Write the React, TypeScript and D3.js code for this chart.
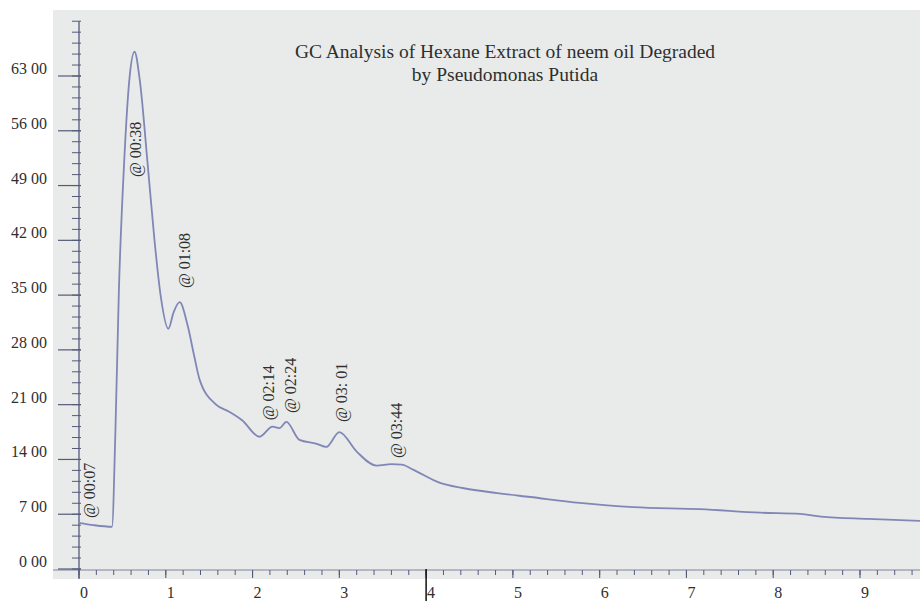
import { useMemo } from "react";
import * as d3 from "d3";

// retention time (min) and detector signal
const times = [0, 0.17, 0.38, 0.42, 0.46, 0.52, 0.58, 0.64, 0.7, 0.79, 0.87, 0.94, 1.03, 1.09, 1.16, 1.25, 1.33, 1.39, 1.58, 1.73, 1.88, 2.08, 2.23, 2.31, 2.39, 2.54, 2.74, 2.85, 3.0, 3.2, 3.43, 3.6, 3.72, 3.85, 4.16, 4.42, 4.82, 5.2, 5.77, 6.39, 7.16, 7.85, 8.31, 8.55, 9.09, 9.7];
const signal = [590, 560, 540, 1780, 3570, 5190, 6250, 6610, 6250, 5190, 4200, 3500, 3070, 3280, 3410, 3120, 2710, 2420, 2100, 2010, 1900, 1690, 1820, 1800, 1880, 1650, 1600, 1560, 1750, 1500, 1320, 1340, 1335, 1270, 1100, 1035, 970, 920, 845, 790, 765, 720, 705, 670, 640, 615];

// peak annotations
const peakLabels = ["@ 00:07", "@ 00:38", "@ 01:08", "@ 02:14", "@ 02:24", "@ 03: 01", "@ 03:44"];
const peakTimes = [0.127, 0.657, 1.221, 2.189, 2.442, 3.03, 3.664];
const peakLabelBase = [652, 5010, 3590, 1900, 1995, 1880, 1420];

const yTicks = [0, 700, 1400, 2100, 2800, 3500, 4200, 4900, 5600, 6300];
const yTickLabels = ["0 00", "7 00", "14 00", "21 00", "28 00", "35 00", "42 00", "49 00", "56 00", "63 00"];
const xTicks = [0, 1, 2, 3, 4, 5, 6, 7, 8, 9];
const xTickLabels = ["0", "1", "2", "3", "4", "5", "6", "7", "8", "9"];

const titleLines = ["GC Analysis of Hexane Extract of neem oil Degraded", "by Pseudomonas Putida"];

const W = 920;
const H = 601;
const FONT = "'Liberation Serif', 'Times New Roman', serif";
const AXIS = "#555a7a";
const TRACE = "#8087b6";

export default function App() {
  const x = useMemo(() => d3.scaleLinear().domain([0, 9]).range([79, 860]), []);
  const y = useMemo(() => d3.scaleLinear().domain([0, 6300]).range([569, 76]), []);

  const path = useMemo(() => {
    const line = d3
      .line<number>()
      .x((_, i) => x(times[i]))
      .y((d) => y(d))
      .curve(d3.curveMonotoneX);
    return line(signal) || "";
  }, [x, y]);

  const minorY = d3.range(0, 7001, 140);
  const minorX = d3.range(0, 9.81, 0.2);
  const x0 = x(0);
  const yBase = y(0);

  return (
    <svg width={W} height={H} style={{ position: "absolute", left: 0, top: 0, background: "#fff" }}>
      <rect x={53} y={10} width={W - 53} height={569} fill="#e8ebe9" />

      <g fontFamily={FONT} fontSize={19.5} fill="#2f2f2f" textAnchor="middle">
        {titleLines.map((t, i) => (
          <text key={t} x={505} y={58 + i * 23}>{t}</text>
        ))}
      </g>

      {/* y axis */}
      <line x1={x0} x2={x0} y1={y(7000)} y2={yBase + 10} stroke={AXIS} strokeWidth={1.3} />
      {minorY.map((v) => (
        <line key={v} x1={x0 - 7} x2={x0 + 2} y1={y(v)} y2={y(v)} stroke={AXIS} strokeWidth={1} />
      ))}
      {yTicks.map((v, i) => (
        <g key={v}>
          <line x1={58} x2={x0 + 2} y1={y(v)} y2={y(v)} stroke={AXIS} strokeWidth={1.2} />
          <text x={47} y={y(v) - 2} textAnchor="end" fontFamily={FONT} fontSize={16} fill="#2f2f2f">
            {yTickLabels[i]}
          </text>
        </g>
      ))}

      {/* x axis */}
      <line x1={53} x2={W} y1={yBase + 1} y2={yBase + 1} stroke={AXIS} strokeWidth={1} opacity={0.7} />
      {minorX.map((v) => (
        <line key={v} x1={x(v)} x2={x(v)} y1={yBase + 1} y2={yBase + 6} stroke={AXIS} strokeWidth={1} />
      ))}
      {xTicks.map((v, i) => (
        <g key={v}>
          <line x1={x(v)} x2={x(v)} y1={yBase + 1} y2={yBase + 9} stroke={AXIS} strokeWidth={1.1} />
          <text x={x(v) + 5} y={598} textAnchor="middle" fontFamily={FONT} fontSize={16} fill="#2f2f2f">
            {xTickLabels[i]}
          </text>
        </g>
      ))}
      <line x1={x(4)} x2={x(4)} y1={yBase} y2={H} stroke="#111" strokeWidth={1.5} />

      <path d={path} fill="none" stroke={TRACE} strokeWidth={1.8} strokeLinejoin="round" />

      <g fontFamily={FONT} fontSize={16} fill="#2f2f2f">
        {peakLabels.map((t, i) => (
          <text key={t} transform={`translate(${x(peakTimes[i]) + 5},${y(peakLabelBase[i])}) rotate(-90)`}>
            {t}
          </text>
        ))}
      </g>
    </svg>
  );
}
